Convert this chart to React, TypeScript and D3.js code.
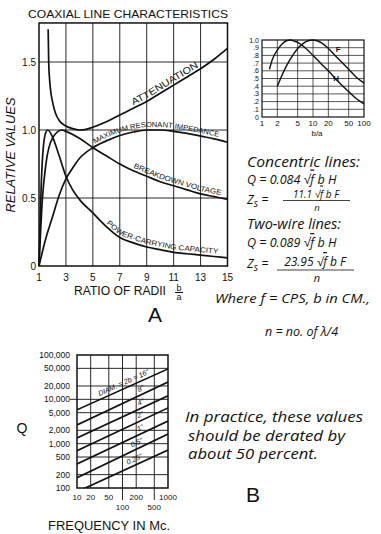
import React from 'react';
import * as d3 from 'd3';

// ---------- Chart A (main) ----------
const mainXTicks = [1, 3, 5, 7, 9, 11, 13, 15];
const mainYTicks = [0, 0.5, 1.0, 1.5];
const mainYTickLabels = ['0', '0.5', '1.0', '1.5'];

const attenX = [1.68, 1.72, 1.78, 1.85, 2, 2.2, 2.5, 3, 3.5, 4, 4.5, 5, 6, 7, 8, 9, 10, 11, 12, 13, 14, 15];
const attenY = [1.74, 1.5, 1.38, 1.3, 1.21, 1.13, 1.07, 1.03, 1.01, 1.0, 1.005, 1.02, 1.06, 1.11, 1.16, 1.21, 1.27, 1.33, 1.39, 1.45, 1.52, 1.6];

const impX = [1, 1.5, 2, 2.5, 3, 3.5, 4, 5, 6, 7, 8, 9, 10, 11, 12, 13, 14, 15];
const impY = [0, 0.2, 0.36, 0.52, 0.64, 0.72, 0.79, 0.87, 0.92, 0.96, 0.985, 1.0, 1.0, 0.99, 0.975, 0.955, 0.935, 0.91];

const brkX = [1, 1.25, 1.5, 2, 2.7, 3, 4, 5, 6, 7, 8, 9, 10, 11, 12, 13, 14, 15];
const brkY = [0, 0.49, 0.74, 0.94, 1.0, 0.99, 0.94, 0.87, 0.81, 0.75, 0.7, 0.66, 0.62, 0.59, 0.56, 0.53, 0.51, 0.49];

const powX = [1, 1.15, 1.3, 1.5, 1.65, 2, 2.5, 3, 3.5, 4, 5, 6, 7, 8, 9, 10, 11, 12, 13, 14, 15];
const powY = [0, 0.55, 0.85, 0.98, 1.0, 0.95, 0.81, 0.66, 0.56, 0.49, 0.39, 0.29, 0.21, 0.17, 0.14, 0.12, 0.1, 0.09, 0.08, 0.07, 0.06];

const curveLabels = ['ATTENUATION', 'MAXIMUM RESONANT IMPEDANCE', 'BREAKDOWN VOLTAGE', 'POWER-CARRYING CAPACITY'];
const curveLabelStart = [8, 5, 8, 6];

// ---------- Small chart (F, H) ----------
const smallXTicks = [1, 2, 5, 10, 20, 50, 100];
const smallYTicks = [0, 0.1, 0.2, 0.3, 0.4, 0.5, 0.6, 0.7, 0.8, 0.9, 1.0];
const smallYTickLabels = ['0', '.1', '.2', '.3', '.4', '.5', '.6', '.7', '.8', '.9', '1.0'];

const hX = [1.4, 1.6, 2, 2.5, 3, 3.6, 4.5, 5, 7, 10, 15, 20, 30, 50, 70, 100];
const hY = [0.62, 0.75, 0.87, 0.95, 0.99, 1.0, 0.98, 0.97, 0.9, 0.8, 0.68, 0.6, 0.47, 0.33, 0.24, 0.17];

const fX = [2, 2.5, 3, 4, 5, 6, 8, 10, 12, 15, 20, 30, 50, 70, 100];
const fY = [0.4, 0.55, 0.66, 0.8, 0.89, 0.94, 0.99, 1.0, 0.99, 0.96, 0.89, 0.77, 0.62, 0.52, 0.44];

// ---------- Chart B ----------
const bYTicks = [100, 200, 500, 1000, 2000, 5000, 10000, 20000, 50000, 100000];
const bYTickLabels = ['100', '200', '500', '1,000', '2,000', '5,000', '10,000', '20,000', '50,000', '100,000'];
const bXTicksRow1 = [10, 20, 50, 200, 1000];
const bXTicksRow2 = [100, 500];
const bXGrid = [20, 50, 100, 200, 500];

const diamLabels = ['DIAM. = 2b = 16"', '8"', '4"', '2"', '1"', '0.5"', '0.25"'];
const qAt10 = [5800, 2650, 1350, 690, 350, 170, 82];
const qAt1000 = [48500, 24500, 12000, 6400, 3250, 1650, 720];
const diamLabelF = [420, 330, 330, 320, 320, 310, 300];

const SANS = '"Liberation Sans", Arial, sans-serif';
const HAND = '"Open Sans", "Noto Sans", "DejaVu Sans", sans-serif';

export default function App() {
  const x = d3.scaleLinear().domain([1, 15]).range([39, 227.5]);
  const y = d3.scaleLinear().domain([0, 1]).range([266, 130]);
  const yTop = 1.787;

  const line = d3.line<[number, number]>().x(d => x(d[0])).y(d => y(d[1])).curve(d3.curveMonotoneX);
  const labelLine = d3.line<[number, number]>().x(d => x(d[0])).y(d => y(d[1]) - 3).curve(d3.curveMonotoneX);
  const zip = (a: number[], b: number[]) => a.map((v, i) => [v, b[i]] as [number, number]);

  const series = [zip(attenX, attenY), zip(impX, impY), zip(brkX, brkY), zip(powX, powY)];

  const sx = d3.scaleLog().domain([1, 100]).range([262, 364]);
  const sy = d3.scaleLinear().domain([0, 1]).range([117, 40]);
  const sline = d3.line<[number, number]>().x(d => sx(d[0])).y(d => sy(d[1])).curve(d3.curveMonotoneX);

  const bx = d3.scaleLog().domain([10, 1000]).range([77, 168]);
  const by = d3.scaleLog().domain([100, 100000]).range([488, 355]);

  const stroke = '#111';

  return (
    <svg width={381} height={534} style={{ position: 'absolute', left: 0, top: 0, background: '#fff' }}>
      <defs>
        {series.map((s, i) => (
          <path key={i} id={`lbl${i}`} d={labelLine(s.filter(p => p[0] >= curveLabelStart[i])) || ''} />
        ))}
        <clipPath id="clipB">
          <rect x={bx(10)} y={by(100000)} width={bx(1000) - bx(10)} height={by(100) - by(100000)} />
        </clipPath>
      </defs>

      {/* ---------------- Chart A ---------------- */}
      <text x={28} y={18.3} fontFamily={SANS} fontSize={11.5} textLength={200} lengthAdjust="spacingAndGlyphs" fill={stroke}>
        COAXIAL LINE CHARACTERISTICS
      </text>
      {mainXTicks.slice(1, -1).map(t => (
        <line key={t} x1={x(t)} x2={x(t)} y1={y(0)} y2={y(yTop)} stroke={stroke} strokeWidth={0.9} />
      ))}
      {mainYTicks.slice(1).map(t => (
        <line key={t} x1={x(1)} x2={x(15)} y1={y(t)} y2={y(t)} stroke={stroke} strokeWidth={0.9} />
      ))}
      <rect x={x(1)} y={y(yTop)} width={x(15) - x(1)} height={y(0) - y(yTop)} fill="none" stroke={stroke} strokeWidth={1.5} />
      {series.map((s, i) => (
        <path key={i} d={line(s) || ''} fill="none" stroke={stroke} strokeWidth={1.7} />
      ))}
      {curveLabels.map((t, i) => (
        <text key={i} fontFamily={SANS} fontSize={i === 0 ? 9.5 : 7.3} fill={stroke}>
          <textPath href={`#lbl${i}`} startOffset={i === 1 ? 2 : 0}
            textLength={[76, 128, 92, 118][i]} lengthAdjust="spacingAndGlyphs">{t}</textPath>
        </text>
      ))}
      {mainYTicks.map((t, i) => (
        <text key={t} x={36} y={y(t) + 3.5} textAnchor="end" fontFamily={SANS} fontSize={10} fill={stroke}>{mainYTickLabels[i]}</text>
      ))}
      {mainXTicks.map(t => (
        <text key={t} x={x(t)} y={280.5} textAnchor="middle" fontFamily={SANS} fontSize={10} fill={stroke}>{t}</text>
      ))}
      <text transform="translate(15,155) rotate(-90)" textAnchor="middle" fontFamily={SANS} fontStyle="italic" fontSize={13} textLength={115} lengthAdjust="spacingAndGlyphs" fill={stroke}>RELATIVE VALUES</text>
      <text x={74} y={295} fontFamily={SANS} fontSize={12.5} textLength={92} lengthAdjust="spacingAndGlyphs" fill={stroke}>RATIO OF RADII</text>
      <text x={179} y={290.5} textAnchor="middle" fontFamily={SANS} fontSize={9} fill={stroke}>b</text>
      <line x1={175} x2={183} y1={292.5} y2={292.5} stroke={stroke} strokeWidth={1} />
      <text x={179} y={300} textAnchor="middle" fontFamily={SANS} fontSize={9} fill={stroke}>a</text>
      <text x={155} y={322} textAnchor="middle" fontFamily={SANS} fontWeight={300} fontSize={21} fill={stroke}>A</text>

      {/* ---------------- Small chart ---------------- */}
      {smallXTicks.slice(1, -1).map(t => (
        <line key={t} x1={sx(t)} x2={sx(t)} y1={sy(0)} y2={sy(1)} stroke={stroke} strokeWidth={0.7} />
      ))}
      {smallYTicks.slice(1, -1).map(t => (
        <line key={t} x1={sx(1)} x2={sx(100)} y1={sy(t)} y2={sy(t)} stroke={stroke} strokeWidth={0.7} />
      ))}
      <rect x={sx(1)} y={sy(1)} width={sx(100) - sx(1)} height={sy(0) - sy(1)} fill="none" stroke={stroke} strokeWidth={1.2} />
      <path d={sline(zip(hX, hY)) || ''} fill="none" stroke={stroke} strokeWidth={1.4} />
      <path d={sline(zip(fX, fY)) || ''} fill="none" stroke={stroke} strokeWidth={1.4} />
      <text x={sx(28)} y={sy(0.84)} fontFamily={SANS} fontSize={8} fontWeight="bold" fill={stroke}>F</text>
      <text x={sx(25)} y={sy(0.47)} fontFamily={SANS} fontSize={8} fontWeight="bold" fill={stroke}>H</text>
      {smallYTicks.map((t, i) => (
        <text key={t} x={259} y={sy(t) + 2.5} textAnchor="end" fontFamily={SANS} fontSize={7} fill={stroke}>{smallYTickLabels[i]}</text>
      ))}
      {smallXTicks.map(t => (
        <text key={t} x={sx(t)} y={126} textAnchor="middle" fontFamily={SANS} fontSize={8} fill={stroke}>{t}</text>
      ))}
      <text x={317} y={136} textAnchor="middle" fontFamily={SANS} fontSize={8} fill={stroke}>b/a</text>

      {/* ---------------- Formulas ---------------- */}
      <g fontFamily={HAND} fontStyle="italic" fill={stroke}>
        <text x={247} y={167} fontSize={14} textLength={113} lengthAdjust="spacingAndGlyphs">Concentric lines:</text>
        <text x={247} y={183.5} fontSize={12.5}>Q = 0.084 √<tspan textDecoration="overline">f</tspan> b H</text>
        <text x={247} y={204} fontSize={12.5}>Z<tspan fontSize={10} dy={3}>s</tspan><tspan dy={-3}> =</tspan></text>
        <text x={316} y={197.5} textAnchor="middle" fontSize={10}>11.1 √<tspan textDecoration="overline">f</tspan> b F</text>
        <line x1={283} x2={350} y1={200.5} y2={200.5} stroke={stroke} strokeWidth={0.8} />
        <text x={317} y={210.5} textAnchor="middle" fontSize={9.5}>n</text>

        <text x={247} y={228.5} fontSize={14} textLength={94} lengthAdjust="spacingAndGlyphs">Two-wire lines:</text>
        <text x={247} y={247} fontSize={12.5}>Q = 0.089 √<tspan textDecoration="overline">f</tspan> b H</text>
        <text x={247} y={268} fontSize={12.5}>Z<tspan fontSize={10} dy={3}>s</tspan><tspan dy={-3}> =</tspan></text>
        <text x={315} y={266} textAnchor="middle" fontSize={12}>23.95 √<tspan textDecoration="overline">f</tspan> b F</text>
        <line x1={277} x2={354} y1={270} y2={270} stroke={stroke} strokeWidth={0.8} />
        <text x={317} y={282} textAnchor="middle" fontSize={11}>n</text>

        <text x={215} y={303} fontSize={12.5} textLength={155} lengthAdjust="spacingAndGlyphs">Where f = CPS, b in CM.,</text>
        <text x={265} y={336} fontSize={12.5}>n = no. of λ/4</text>

        <text x={185} y={422} fontSize={14} textLength={178} lengthAdjust="spacingAndGlyphs">In practice, these values</text>
        <text x={188} y={441} fontSize={14} textLength={157} lengthAdjust="spacingAndGlyphs">should be derated by</text>
        <text x={188} y={459} fontSize={14} textLength={130} lengthAdjust="spacingAndGlyphs">about 50 percent.</text>
      </g>

      {/* ---------------- Chart B ---------------- */}
      {bXGrid.map(t => (
        <line key={t} x1={bx(t)} x2={bx(t)} y1={by(100000)} y2={t === 100 || t === 500 ? 500 : by(100)} stroke={stroke} strokeWidth={0.9} />
      ))}
      {bYTicks.slice(1, -1).map(t => (
        <line key={t} x1={t === 10000 ? 70 : bx(10)} x2={bx(1000)} y1={by(t)} y2={by(t)} stroke={stroke} strokeWidth={0.9} />
      ))}
      <rect x={bx(10)} y={by(100000)} width={bx(1000) - bx(10)} height={by(100) - by(100000)} fill="none" stroke={stroke} strokeWidth={1.5} />
      <g clipPath="url(#clipB)">
        {diamLabels.map((d, i) => (
          <line key={d} x1={bx(10)} y1={by(qAt10[i])} x2={bx(1000)} y2={by(qAt1000[i])} stroke={stroke} strokeWidth={1.7} />
        ))}
      </g>
      {diamLabels.map((d, i) => {
        const ang = Math.atan2(by(qAt1000[i]) - by(qAt10[i]), bx(1000) - bx(10)) * 180 / Math.PI;
        const f = diamLabelF[i];
        const t = (Math.log10(f) - 1) / 2;
        const q = Math.pow(10, Math.log10(qAt10[i]) + t * (Math.log10(qAt1000[i]) - Math.log10(qAt10[i])));
        return (
          <g key={d} transform={`translate(${bx(f)},${by(q)}) rotate(${ang})`}>
            <text x={0} y={-3.3} textAnchor="end" fontFamily={SANS} fontStyle="italic" fontSize={7.2} fill={stroke}>{d}</text>
          </g>
        );
      })}
      {bYTicks.map((t, i) => (
        <text key={t} x={70} y={by(t) + 3} textAnchor="end" fontFamily={SANS} fontSize={8.5} fill={stroke}>{bYTickLabels[i]}</text>
      ))}
      {bXTicksRow1.map(t => (
        <text key={t} x={bx(t)} y={500} textAnchor="middle" fontFamily={SANS} fontSize={8} fill={stroke}>{t}</text>
      ))}
      {bXTicksRow2.map(t => (
        <text key={t} x={bx(t)} y={510} textAnchor="middle" fontFamily={SANS} fontSize={8} fill={stroke}>{t}</text>
      ))}
      <text x={22} y={433} textAnchor="middle" fontFamily={SANS} fontSize={14} fill={stroke}>Q</text>
      <text x={48} y={530} fontFamily={SANS} fontSize={12} textLength={122} lengthAdjust="spacingAndGlyphs" fill={stroke}>FREQUENCY IN Mc.</text>
      <text x={253} y={502} textAnchor="middle" fontFamily={SANS} fontWeight={300} fontSize={21} fill={stroke}>B</text>
    </svg>
  );
}
